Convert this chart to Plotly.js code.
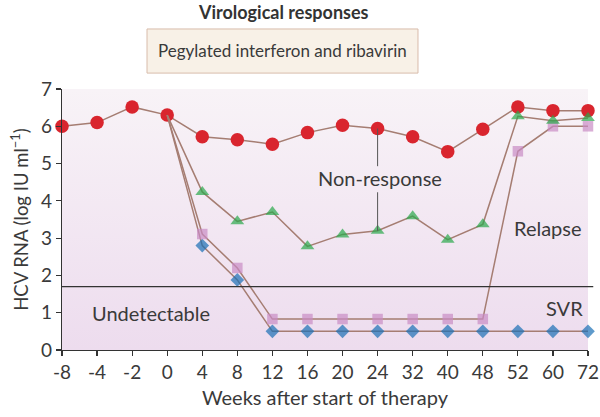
<!DOCTYPE html>
<html>
<head>
<meta charset="utf-8">
<script src="https://cdn.plot.ly/plotly-3.0.1.min.js"></script>
<style>html,body{margin:0;padding:0;background:#fff;}#chart{width:600px;height:417px;}</style>
</head>
<body>
<div id="chart"></div>
<script>
// Weeks after start of therapy (categorical, evenly spaced)
const weeks = ['-8','-4','-2','0','4','8','12','16','20','24','32','40','48','52','60','72'];

// Non-response (red circles)
const nonResponseWeeks = weeks;
const nonResponse = [6.0, 6.1, 6.52, 6.3, 5.72, 5.64, 5.52, 5.83, 6.03, 5.94, 5.72, 5.32, 5.92, 6.52, 6.42, 6.42];

// Partial response (green triangles)
const partialWeeks = ['0','4','8','12','16','20','24','32','40','48','52','60','72'];
const partial = [6.3, 4.24, 3.45, 3.7, 2.78, 3.1, 3.2, 3.59, 2.96, 3.37, 6.27, 6.15, 6.22];

// Relapse (pink squares)
const relapseWeeks = ['0','4','8','12','16','20','24','32','40','48','52','60','72'];
const relapse = [6.3, 3.11, 2.2, 0.83, 0.83, 0.83, 0.83, 0.83, 0.83, 0.83, 5.33, 6.0, 6.0];

// SVR (blue diamonds)
const svrWeeks = ['0','4','8','12','16','20','24','32','40','48','52','60','72'];
const svr = [6.3, 2.8, 1.88, 0.5, 0.5, 0.5, 0.5, 0.5, 0.5, 0.5, 0.5, 0.5, 0.5];

// Detection limit
const detectionLimit = 1.7;

const lineColor = '#a57d72';
function tr(x, y, symbol, color, size, hideFirst) {
  return {
    x: x, y: y, type: 'scatter', mode: 'lines+markers', cliponaxis: false,
    line: {color: lineColor, width: 1.5},
    marker: {symbol: symbol, color: color,
             size: hideFirst ? x.map((_, i) => i === 0 ? 0 : size) : size,
             line: {width: 0}},
    hoverinfo: 'x+y', showlegend: false
  };
}

const data = [
  tr(nonResponseWeeks, nonResponse, 'circle', '#d9252e', 13.5, false),
  tr(svrWeeks, svr, 'diamond', '#1a6fb5', 10.5, true),
  tr(relapseWeeks, relapse, 'square', '#c98cc5', 10.5, true),
  tr(partialWeeks, partial, 'triangle-up', '#2aa84a', 12, true)
];

const grad = 'data:image/svg+xml;utf8,' + encodeURIComponent(
  '<svg xmlns="http://www.w3.org/2000/svg" width="100" height="100" preserveAspectRatio="none">' +
  '<defs><linearGradient id="g" x1="0" y1="0" x2="0" y2="1">' +
  '<stop offset="0" stop-color="#f8f3f7"/><stop offset="1" stop-color="#eddcee"/>' +
  '</linearGradient></defs><rect width="100" height="100" fill="url(#g)"/></svg>');

const font = 'Lato, "Open Sans", sans-serif';
const txt = '#3a3a3a';

const layout = {
  width: 600, height: 417,
  margin: {l: 62, r: 12, t: 89, b: 67},
  paper_bgcolor: '#ffffff',
  plot_bgcolor: 'rgba(0,0,0,0)',
  font: {family: font, size: 17, color: txt},
  xaxis: {
    type: 'category', categoryorder: 'array', categoryarray: weeks,
    range: [0, 15], showgrid: false, zeroline: false,
    showline: true, linecolor: '#333', linewidth: 1.2,
    ticks: 'outside', ticklen: 5, tickcolor: '#333', tickwidth: 1.2,
    tickfont: {family: font, size: 19, color: txt},
    title: {text: 'Weeks after start of therapy', font: {family: font, size: 20, color: txt}, standoff: 9}
  },
  yaxis: {
    range: [0, 7], showgrid: false, zeroline: false,
    showline: true, linecolor: '#333', linewidth: 1.2,
    ticks: 'outside', ticklen: 5, tickcolor: '#333', tickwidth: 1.2,
    tickvals: [0,1,2,3,4,5,6,7],
    tickfont: {family: font, size: 19, color: txt},
    title: {text: 'HCV RNA (log IU ml<sup>−1</sup>)', font: {family: font, size: 18.5, color: txt}, standoff: 7}
  },
  images: [{
    source: grad, xref: 'paper', yref: 'paper', x: 0, y: 1, sizex: 1, sizey: 1,
    sizing: 'stretch', xanchor: 'left', yanchor: 'top', layer: 'below'
  }],
  shapes: [
    {type: 'line', xref: 'paper', yref: 'y', x0: 0, x1: 1.01, y0: detectionLimit, y1: detectionLimit,
     line: {color: '#333', width: 1.2}},
    {type: 'line', xref: 'x', yref: 'y', x0: 9, x1: 9, y0: 5.94, y1: 4.93, line: {color: '#555', width: 1}},
    {type: 'line', xref: 'x', yref: 'y', x0: 9, x1: 9, y0: 4.23, y1: 3.2, line: {color: '#555', width: 1}},
    {type: 'rect', xref: 'paper', yref: 'paper', x0: 0.1616, x1: 0.6768, y0: 1.061, y1: 1.230,
     fillcolor: '#f8f1e7', line: {color: '#d8bcab', width: 1}}
  ],
  annotations: [
    {text: '<b>Virological responses</b>', xref: 'paper', yref: 'paper', x: 0.422, y: 1.295,
     xanchor: 'center', yanchor: 'middle', showarrow: false, font: {family: font, size: 18, color: '#333'}},
    {text: 'Pegylated interferon and ribavirin', xref: 'paper', yref: 'paper', x: 0.42, y: 1.146,
     xanchor: 'center', yanchor: 'middle', showarrow: false, font: {family: font, size: 17, color: txt}},
    {text: 'Non-response', xref: 'x', yref: 'y', x: 9.07, y: 4.6, xanchor: 'center', yanchor: 'middle',
     showarrow: false, font: {family: font, size: 20, color: txt}},
    {text: 'Relapse', xref: 'x', yref: 'y', x: 13.86, y: 3.28, xanchor: 'center', yanchor: 'middle',
     showarrow: false, font: {family: font, size: 20, color: txt}},
    {text: 'SVR', xref: 'x', yref: 'y', x: 14.34, y: 1.13, xanchor: 'center', yanchor: 'middle',
     showarrow: false, font: {family: font, size: 20, color: txt}},
    {text: 'Undetectable', xref: 'x', yref: 'y', x: 2.54, y: 1.0, xanchor: 'center', yanchor: 'middle',
     showarrow: false, font: {family: font, size: 20, color: txt}}
  ]
};

Plotly.newPlot('chart', data, layout, {displayModeBar: false, staticPlot: true});
</script>
</body>
</html>
